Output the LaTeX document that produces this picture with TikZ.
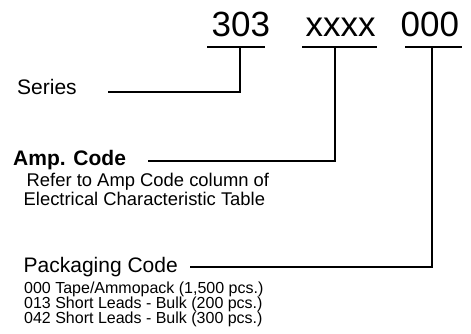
\documentclass[tikz,border=0pt]{standalone}
\usepackage{fontspec}
\setmainfont{Liberation Sans}
\usetikzlibrary{positioning}
\tikzset{txt/.style={anchor=base west,inner sep=0pt}}
\tikzset{lead/.style={line width=1.6pt}}

\begin{document}
\begin{tikzpicture}[x=1pt,y=-1pt]
  \useasboundingbox (0,0) rectangle (471,334);
  % part number
  \node[txt,font=\fontsize{35}{42}\selectfont] (p303) at (211.5,37) {303};
  \node[txt,font=\fontsize{35}{42}\selectfont] (pxxxx) at (305.5,37) {xxxx};
  \node[txt,font=\fontsize{35}{42}\selectfont] (p000) at (400.5,37) {000};
  \draw[lead] (207,47) -- (265,47);
  \draw[lead] (302,47) -- (377,47);
  \draw[lead] (405,47) -- (462,47);
  % fields
  \node[txt,font=\fontsize{21}{25}\selectfont] (series) at (17,95) {Series};
  \node[txt,font=\fontsize{21}{25}\bfseries] (amp) at (13,165) {Amp. Code};
  \node[txt,font=\fontsize{18.4}{22}\selectfont] (amp1) at (26.5,186) {Refer to Amp Code column of};
  \node[txt,font=\fontsize{18.4}{22}\selectfont] (amp2) at (23.5,205) {Electrical Characteristic Table};
  \node[txt,font=\fontsize{21}{25}\selectfont] (pack) at (23.5,272) {Packaging Code};
  \node[txt,font=\fontsize{16}{18}\selectfont] (pack1) at (24,293) {000 Tape/Ammopack (1,500 pcs.)};
  \node[txt,font=\fontsize{16}{18}\selectfont] (pack2) at (24,308) {013 Short Leads - Bulk (200 pcs.)};
  \node[txt,font=\fontsize{16}{18}\selectfont] (pack3) at (24,323) {042 Short Leads - Bulk (300 pcs.)};
  % leaders
  \coordinate (c303) at (240,47);
  \coordinate (cxxxx) at (335,47);
  \coordinate (c000) at (432,47);
  \coordinate (eseries) at (108,92);
  \coordinate (eamp) at (148,161);
  \coordinate (epack) at (190,267);
  \draw[lead] (c303) |- (eseries);
  \draw[lead] (cxxxx) |- (eamp);
  \draw[lead] (c000) |- (epack);
\end{tikzpicture}
\end{document}
